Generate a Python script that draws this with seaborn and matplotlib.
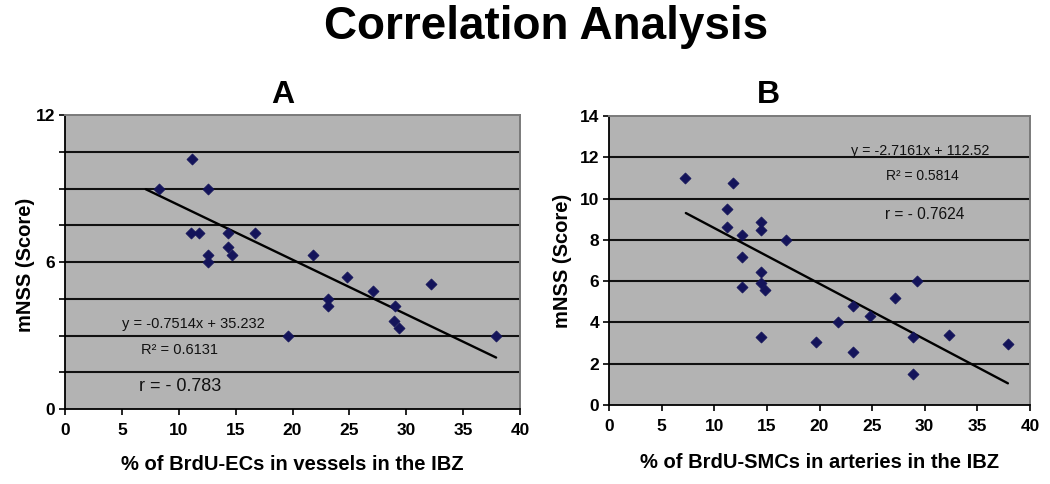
import matplotlib
matplotlib.use("Agg")
import matplotlib.pyplot as plt
import seaborn as sns
import pandas as pd
import numpy as np

# ---------------- data ----------------
a_x = [8.3, 11.2, 12.6, 11.1, 11.8, 14.3, 16.7, 14.3, 14.7, 12.6, 12.6,
       21.8, 24.8, 27.1, 32.2, 23.1, 23.1, 29.0, 28.9, 29.4, 19.6, 37.9]
a_y = [9.0, 10.2, 9.0, 7.2, 7.2, 7.2, 7.2, 6.6, 6.3, 6.3, 6.0,
       6.3, 5.4, 4.8, 5.1, 4.5, 4.2, 4.2, 3.6, 3.3, 3.0, 3.0]
a_fit_x = [7.1, 37.9]
a_fit_y = [8.97, 2.1]

b_x = [7.2, 11.8, 11.2, 11.2, 12.6, 14.4, 14.4, 16.8, 12.6, 14.4, 14.4,
       14.8, 12.6, 21.8, 14.4, 19.7, 29.3, 27.2, 23.2, 24.8, 23.2, 28.9,
       32.3, 37.9, 28.9]
b_y = [11.0, 10.75, 9.5, 8.6, 8.25, 8.85, 8.5, 8.0, 7.15, 6.45, 5.9,
       5.55, 5.7, 4.0, 3.3, 3.05, 6.0, 5.2, 4.8, 4.3, 2.55, 3.3,
       3.4, 2.95, 1.5]
b_fit_x = [7.3, 37.9]
b_fit_y = [9.3, 1.05]

x_ticks = [0, 5, 10, 15, 20, 25, 30, 35, 40]
a_y_ticks = [0, 1.5, 3, 4.5, 6, 7.5, 9, 10.5, 12]
a_y_labels = ["0", "", "", "", "6", "", "", "", "12"]
b_y_ticks = [0, 2, 4, 6, 8, 10, 12, 14]

title = "Correlation Analysis"
a_title, b_title = "A", "B"
a_xlabel = "% of BrdU-ECs in vessels in the IBZ"
b_xlabel = "% of BrdU-SMCs in arteries in the IBZ"
ylabel = "mNSS (Score)"
a_eq = ["y = -0.7514x + 35.232", "R\u00b2 = 0.6131", "r = - 0.783"]
b_eq = ["y = -2.7161x + 112.52", "R\u00b2 = 0.5814", "r = - 0.7624"]

# ---------------- style ----------------
sns.set_theme(style="white")
plt.rcParams["font.family"] = ["Liberation Sans", "DejaVu Sans"]
for k in ["text.color", "axes.labelcolor", "xtick.color", "ytick.color"]:
    plt.rcParams[k] = "black"

W, H = 1050, 484
fig = plt.figure(figsize=(W / 100, H / 100), dpi=100)

def px_axes(l, t, r, b):
    return fig.add_axes([l / W, 1 - b / H, (r - l) / W, (b - t) / H])

axA = px_axes(65, 115, 520, 409)
axB = px_axes(609, 116, 1030, 405)

BG = "#b3b3b3"
MK = "#14145a"

def style_axes(ax, ylim, yticks, ylabels):
    ax.set_facecolor(BG)
    ax.set_xlim(0, 40)
    ax.set_ylim(*ylim)
    for g in yticks:
        if ylim[0] < g < ylim[1]:
            ax.axhline(g, color="#111111", lw=1.5, zorder=1)
    for s in ["top", "right"]:
        ax.spines[s].set_color("#7a7a7a")
        ax.spines[s].set_linewidth(1.4)
    for s in ["left", "bottom"]:
        ax.spines[s].set_color("#000000")
        ax.spines[s].set_linewidth(1.3)
    ax.set_xticks(x_ticks)
    ax.set_xticklabels([str(v) for v in x_ticks], fontweight="bold")
    ax.set_yticks(yticks)
    ax.set_yticklabels(ylabels, fontweight="bold")
    ax.tick_params(axis="both", which="both", direction="out", length=4,
                   width=1.2, color="black", bottom=True, left=True,
                   labelsize=12.5, labelcolor="black")
    ax.tick_params(axis="x", pad=6)
    ax.tick_params(axis="y", pad=3)

def draw(ax, xs, ys, fx, fy):
    df = pd.DataFrame({"x": xs, "y": ys})
    sns.scatterplot(data=df, x="x", y="y", ax=ax, marker="D", s=32,
                    color=MK, edgecolor=MK, linewidth=0.5, zorder=4)
    fit = pd.DataFrame({"x": fx, "y": fy})
    sns.lineplot(data=fit, x="x", y="y", ax=ax, color="black", lw=1.7,
                 zorder=3)

TXT = "#111111"

# Panel A
draw(axA, a_x, a_y, a_fit_x, a_fit_y)
style_axes(axA, (0, 12), a_y_ticks, a_y_labels)
axA.set_xlabel(a_xlabel, fontsize=14.5, fontweight="bold", labelpad=12)
axA.set_ylabel(ylabel, fontsize=14.5, fontweight="bold")
axA.yaxis.set_label_coords(-0.066, 0.49)
axA.text(11.3, 3.45, a_eq[0], fontsize=10.5, ha="center", va="center",
         color=TXT)
axA.text(10.1, 2.4, a_eq[1], fontsize=10.5, ha="center", va="center",
         color=TXT)
axA.text(10.1, 0.9, a_eq[2], fontsize=13, ha="center", va="center",
         color=TXT)

# Panel B
draw(axB, b_x, b_y, b_fit_x, b_fit_y)
style_axes(axB, (0, 14), b_y_ticks, [str(v) for v in b_y_ticks])
axB.set_xlabel(b_xlabel, fontsize=14.5, fontweight="bold", labelpad=14)
axB.set_ylabel(ylabel, fontsize=14.5, fontweight="bold")
axB.yaxis.set_label_coords(-0.087, 0.5)
axB.text(29.6, 12.3, b_eq[0], fontsize=10.3, ha="center", va="center",
         color=TXT)
axB.text(29.8, 11.1, b_eq[1], fontsize=10, ha="center", va="center",
         color=TXT)
axB.text(30.0, 9.25, b_eq[2], fontsize=11.2, ha="center", va="center",
         color=TXT)

fig.text(546 / W, 1 - 27 / H, title, fontsize=33, fontweight="bold",
         ha="center", va="center")
fig.text(283 / W, 1 - 95 / H, a_title, fontsize=23, fontweight="bold",
         ha="center", va="center")
fig.text(768 / W, 1 - 95 / H, b_title, fontsize=23, fontweight="bold",
         ha="center", va="center")

fig.savefig("out.png", dpi=100, facecolor="white")
